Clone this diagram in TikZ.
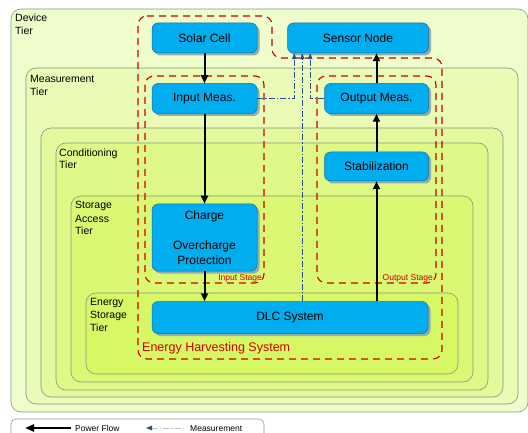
\documentclass[tikz,border=0pt]{standalone}
\usepackage{fontspec}
\setmainfont{Liberation Sans}
\usetikzlibrary{arrows.meta,positioning,shadows}

\definecolor{devfill}{HTML}{EFFCCC}
\definecolor{measfill}{HTML}{E9FBB6}
\definecolor{midfill}{HTML}{E4F99E}
\definecolor{condfill}{HTML}{DFF988}
\definecolor{accfill}{HTML}{DBF874}
\definecolor{storfill}{HTML}{D7F865}
\definecolor{tierline}{HTML}{80997A}
\definecolor{blockfill}{HTML}{00AEEF}
\definecolor{blockline}{HTML}{1D6A96}
\definecolor{blockshadow}{HTML}{8FAFAC}
\definecolor{stagered}{HTML}{D00000}
\definecolor{measblue}{HTML}{2B4F8A}

\tikzset{
	tier/.style={draw=tierline, line width=0.6pt, rounded corners=10pt},
	tierlabel/.style={anchor=base west, align=left, inner sep=0pt,
		font=\fontsize{10.5}{13}\selectfont},
	block/.style={draw=blockline, fill=blockfill, line width=0.5pt,
		rounded corners=6pt, inner sep=0pt, align=center,
		minimum width=105pt, minimum height=30pt,
		font=\fontsize{12}{15}\selectfont,
		drop shadow={shadow xshift=2.5pt, shadow yshift=-2.5pt,
			fill=blockshadow, opacity=1}},
	stage/.style={draw=stagered, line width=1.1pt,
		dash pattern=on 7pt off 5pt, rounded corners=9pt},
	stagelabel/.style={text=stagered, inner sep=0pt},
	power/.style={-{Triangle[length=8pt,width=7pt]}, line width=2pt},
	measline/.style={-{Triangle[length=6pt,width=4.5pt]}, draw=measblue,
		line width=0.7pt, dash pattern=on 6pt off 2pt on 1.5pt off 2pt},
}

\begin{document}
\begin{tikzpicture}[x=1pt,y=-1pt]
	\useasboundingbox (0,0) rectangle (528,433);

	% nested tiers
	\draw[tier, fill=devfill]  (11,9)    rectangle (528,412);
	\draw[tier, fill=measfill] (26,68)   rectangle (518,404);
	\draw[tier, fill=midfill]  (41,128)  rectangle (503,397);
	\draw[tier, fill=condfill] (56,143)  rectangle (488,390);
	\draw[tier, fill=accfill]  (71,196)  rectangle (473,382);
	\draw[tier, fill=storfill] (86,293)  rectangle (458,374);

	% labels sit on the baseline of their last line
	\node[tierlabel] (devtier)  at (15,35)  {Device\\Tier};
	\node[tierlabel] (meastier) at (30,96)  {Measurement\\Tier};
	\node[tierlabel] (condtier) at (59,169) {Conditioning\\Tier};
	\node[tierlabel] (acctier)  at (75,235) {Storage\\Access\\Tier};
	\node[tierlabel] (stortier) at (90,331) {Energy\\Storage\\Tier};

	% stages
	\draw[stage] (138,16) -- (272,16) -- (272,58) -- (442,58)
		-- (442,359) -- (138,359) -- cycle;
	\draw[stage] (145,76) rectangle (264,283);
	\draw[stage] (317,76) rectangle (436,283);
	\node[stagelabel, anchor=base west, font=\fontsize{12.5}{14}\selectfont]
		(ehs) at (142,351) {Energy Harvesting System};
	\node[stagelabel, anchor=base east, font=\fontsize{8.5}{10}\selectfont]
		(instage) at (262,280) {Input Stage};
	\node[stagelabel, anchor=base east, font=\fontsize{8.5}{10}\selectfont]
		(outstage) at (433,280) {Output Stage};

	% blocks
	\node[block] (solar) at (204.5,38) {Solar Cell};
	\node[block, minimum width=141pt] [right=30pt of solar] (sensor) {Sensor Node};
	\node[block] [below=30pt of solar] (inmeas) {Input Meas.};
	\node[block, minimum height=67pt] [below=90pt of inmeas] (charge)
		{Charge\\ \\Overcharge\\Protection};
	\node[block, minimum width=104pt] [below=30pt of sensor.south east, anchor=north east]
		(outmeas) {Output Meas.};
	\node[block, minimum width=104pt, minimum height=29pt] [below=38pt of outmeas]
		(stab) {Stabilization};
	\node[block, minimum width=276pt, minimum height=32pt]
		[below=30pt of charge.south west, anchor=north west] (dlc) {DLC System};

	% power flow
	\draw[power] (solar) -- (inmeas);
	\draw[power] (inmeas) -- (charge);
	\draw[power] (charge) -- (charge |- dlc.north);
	\draw[power] (dlc.north -| stab) -- (stab);
	\draw[power] (stab) -- (outmeas);
	\draw[power] (outmeas) -- (outmeas |- sensor.south);

	% measurement
	\coordinate (tapin)  at ([xshift=7pt]sensor.south west);
	\coordinate (tapdlc) at ([xshift=15pt]sensor.south west);
	\coordinate (tapout) at ([xshift=23pt]sensor.south west);
	\draw[measline] (inmeas.east) -| (tapin);
	\draw[measline] (dlc.north -| tapdlc) -- (tapdlc);
	\draw[measline] (outmeas.west) -| (tapout);

	% legend
	\draw[draw=gray!80, fill=white, line width=0.6pt, rounded corners=5pt]
		(11,419) rectangle (264,445);
	\node[anchor=base west, inner sep=0pt, font=\fontsize{8.5}{10}\selectfont]
		(pflabel) at (75,431) {Power Flow};
	\node[anchor=base west, inner sep=0pt, font=\fontsize{8.5}{10}\selectfont]
		(mlabel) at (190,431) {Measurement};
	\coordinate (pftip) at (25,428);
	\coordinate (pftail) at (71,428);
	\coordinate (mtip) at (146,428);
	\coordinate (mtail) at (186,428);
	\draw[{Triangle[length=9pt,width=7pt]}-, line width=2.2pt] (pftip) -- (pftail);
	\draw[{Triangle[length=6pt,width=4.5pt,color=measblue]}-, draw=measblue!35,
		line width=1pt, dash pattern=on 6pt off 2pt on 1.5pt off 2pt] (mtip) -- (mtail);
\end{tikzpicture}
\end{document}
